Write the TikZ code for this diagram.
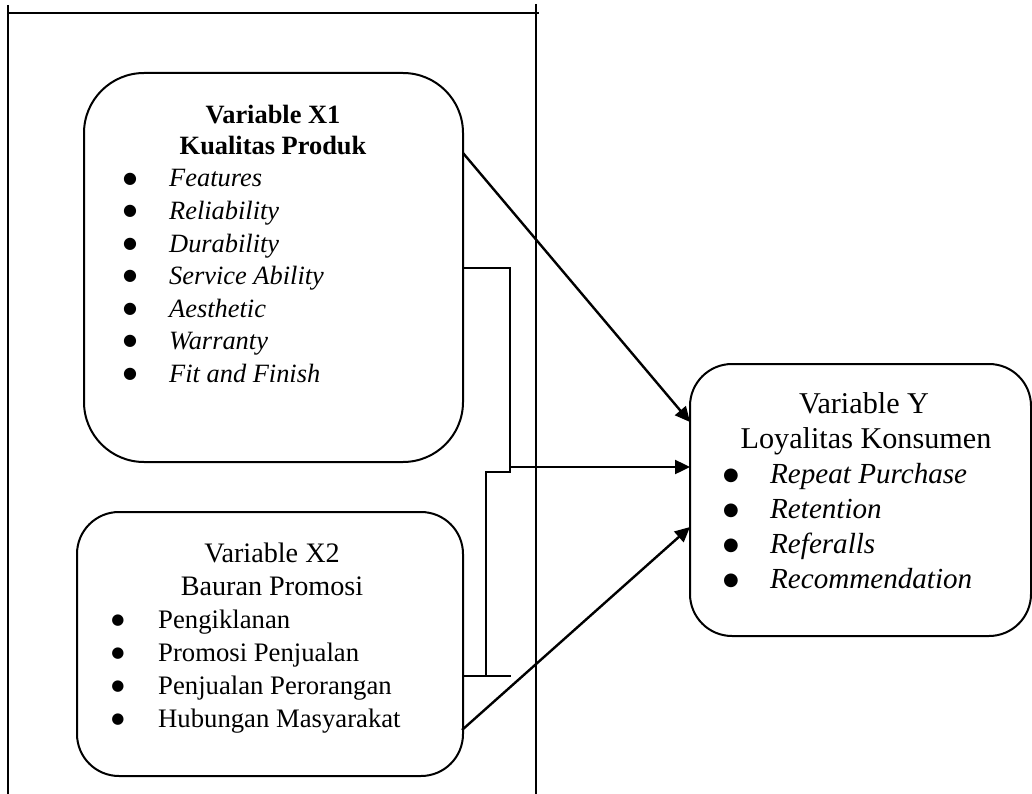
\documentclass[tikz,border=0pt]{standalone}
\usepackage{fontspec}
\setmainfont{Liberation Serif}
\newfontfamily\bulfont{DejaVu Sans}
\usetikzlibrary{arrows.meta}
\newcommand\mybul[2]{\raisebox{#2pt}{\bulfont\fontsize{#1}{#1}\selectfont ●}}
\begin{document}
\begin{tikzpicture}[x=1pt,y=-1pt,
  box/.style={draw, line width=2pt, rectangle, inner sep=0pt},
  frameline/.style={line width=2pt},
  conn/.style={line width=1.6pt},
  arr/.style={line width=2.4pt, -{Triangle[length=15pt,width=14pt]}},
  hd/.style={anchor=base, inner sep=0pt},
  itm/.style={anchor=base west, inner sep=0pt},
  bul/.style={anchor=base, inner sep=0pt},
  fA/.style={font=\fontsize{26.4}{30}\selectfont},
  fB/.style={font=\fontsize{28.2}{32}\selectfont},
  fC/.style={font=\fontsize{26.7}{30}\selectfont},
  fD/.style={font=\fontsize{30.2}{34}\selectfont},
  fE/.style={font=\fontsize{29.1}{33}\selectfont\itshape},
  fAi/.style={font=\fontsize{26.4}{30}\selectfont\itshape}]
\useasboundingbox (0,0) rectangle (1032,794);

% outer frame
\coordinate (ftl) at (8,5);
\coordinate (fbl) at (8,794);
\coordinate (ftr) at (536,4);
\coordinate (fbr) at (536,794);
\coordinate (ft1) at (8,13);
\coordinate (ft2) at (539,13);
\draw[frameline] (ftl) -- (fbl);
\draw[frameline] (ftr) -- (fbr);
\draw[frameline] (ft1) -- (ft2);

% boxes
\node[box, rounded corners=60pt, minimum width=379pt, minimum height=389pt] (x1) at (273.5,267.5) {};
\node[box, rounded corners=42pt, minimum width=386pt, minimum height=264pt] (x2) at (270,644) {};
\node[box, rounded corners=42pt, minimum width=341pt, minimum height=272pt] (y) at (860.5,500) {};

% X1 text
\node[hd, fA] (x1t1) at (273,124) {\bfseries Variable X1};
\node[hd, fA] (x1t2) at (273,155) {\bfseries Kualitas Produk};
\foreach \t/\yy [count=\i] in {Features/187, Reliability/219.5, Durability/252, Service Ability/284, Aesthetic/317, Warranty/349, Fit and Finish/382}{
  \node[bul] (x1b\i) at (130,\yy) {\mybul{16}{3.5}};
  \node[itm, fAi] (x1i\i) at (169,\yy) {\t};
}

% X2 text
\node[hd, fB] (x2t1) at (272,562) {Variable X2};
\node[hd, fB] (x2t2) at (272,595) {Bauran Promosi};
\foreach \t/\yy [count=\i] in {Pengiklanan/628, Promosi Penjualan/661, Penjualan Perorangan/694, Hubungan Masyarakat/727}{
  \node[bul] (x2b\i) at (118,\yy) {\mybul{15}{3.5}};
  \node[itm, fC] (x2i\i) at (158,\yy) {\t};
}

% Y text
\node[hd, fD] (yt1) at (864,413) {Variable Y};
\node[hd, fD] (yt2) at (866,448) {Loyalitas Konsumen};
\foreach \t/\yy [count=\i] in {Repeat Purchase/483, Retention/518, Referalls/553, Recommendation/588}{
  \node[bul] (yb\i) at (731,\yy) {\mybul{18}{2.5}};
  \node[itm, fE] (yi\i) at (770,\yy) {\t};
}

% bracket
\coordinate (b1) at (463,268);
\coordinate (b2) at (510,268);
\coordinate (b3) at (510,472);
\coordinate (b4) at (486,472);
\coordinate (b5) at (486,676);
\coordinate (b6) at (463,676);
\coordinate (b7) at (511,676);
\draw[conn] (b1) -- (b2) -- (b3) -- (b4) -- (b5);
\draw[conn] (b6) -- (b7);

% arrows
\coordinate (a1s) at (463,153);
\coordinate (a1e) at (690,422);
\coordinate (a2s) at (510,467);
\coordinate (a2e) at (690,467);
\coordinate (a3s) at (462,730);
\coordinate (a3e) at (690,527);
\draw[arr] (a1s) -- (a1e);
\draw[arr] (a2s) -- (a2e);
\draw[arr] (a3s) -- (a3e);
\end{tikzpicture}
\end{document}
